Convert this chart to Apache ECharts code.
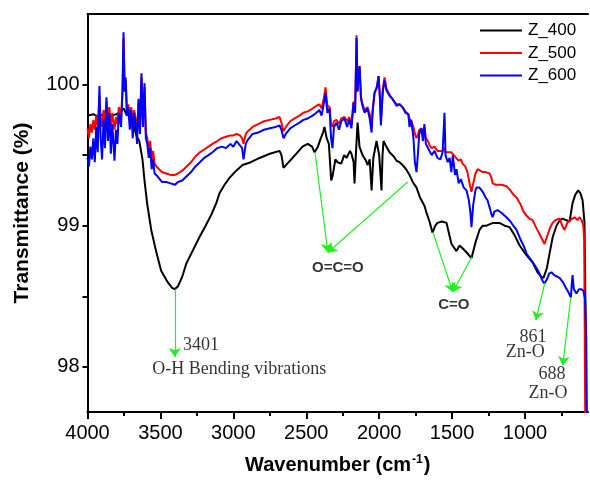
<!DOCTYPE html>
<html>
<head>
<meta charset="utf-8">
<script src="https://cdn.jsdelivr.net/npm/echarts@6/dist/echarts.min.js"></script>
<style>html,body{margin:0;padding:0;background:#fff}#c{width:590px;height:480px}</style>
</head>
<body>
<div id="c"></div>
<script>
const seriesNames = ['Z_400', 'Z_500', 'Z_600'];
const xMajorTicks = [4000, 3500, 3000, 2500, 2000, 1500, 1000];
const xMinorTicks = [3750, 3250, 2750, 2250, 1750, 1250, 750];
const yTicks = [98, 98.5, 99, 99.5, 100];
const yLabels = [98, 99, 100];

const z400 = [
[4000,99.78],[3960,99.79],[3920,99.77],[3880,99.80],[3840,99.78],[3800,99.79],[3770,99.81],[3750,99.83],
[3730,99.78],[3712,99.80],[3690,99.73],[3665,99.64],[3645,99.60],[3623,99.47],[3609,99.32],[3590,99.15],
[3563,98.97],[3530,98.82],[3495,98.68],[3450,98.60],[3420,98.56],[3403,98.55],[3380,98.57],[3350,98.64],
[3323,98.73],[3280,98.82],[3232,98.92],[3190,99.00],[3150,99.08],[3117,99.16],[3095,99.23],[3060,99.29],
[3026,99.34],[2980,99.39],[2937,99.43],[2880,99.45],[2820,99.48],[2750,99.51],[2683,99.53],[2670,99.50],
[2656,99.41],[2630,99.44],[2594,99.48],[2560,99.52],[2526,99.56],[2490,99.58],[2460,99.56],[2443,99.52],
[2420,99.56],[2400,99.62],[2385,99.66],[2375,99.70],[2360,99.62],[2345,99.58],[2329,99.32],[2320,99.35],
[2300,99.47],[2286,99.45],[2260,99.44],[2240,99.50],[2224,99.48],[2200,99.53],[2190,99.51],[2175,99.45],
[2169,99.30],[2160,99.50],[2148,99.73],[2135,99.56],[2114,99.50],[2090,99.46],[2080,99.43],[2065,99.47],
[2052,99.25],[2040,99.48],[2018,99.60],[2000,99.50],[1984,99.25],[1977,99.50],[1970,99.60],[1950,99.56],
[1929,99.52],[1900,99.49],[1881,99.46],[1860,99.45],[1840,99.43],[1815,99.40],[1792,99.36],[1770,99.31],
[1744,99.27],[1720,99.20],[1689,99.14],[1675,99.09],[1655,99.03],[1634,98.95],[1615,99.00],[1600,99.02],
[1570,99.03],[1538,99.02],[1520,98.94],[1504,98.87],[1470,98.82],[1449,98.86],[1428,98.84],[1400,98.81],
[1367,98.77],[1340,98.88],[1312,98.97],[1290,99.00],[1264,99.00],[1220,99.02],[1175,99.02],[1140,99.00],
[1106,98.99],[1070,98.93],[1037,98.86],[1010,98.82],[989,98.79],[948,98.74],[914,98.67],[890,98.64],
[873,98.63],[850,98.70],[832,98.80],[810,98.92],[784,99.00],[760,99.04],[742,99.05],[720,99.04],
[694,99.03],[674,99.16],[655,99.22],[635,99.25],[620,99.23],[605,99.18],[592,99.02],[585,98.40],[578,97.40]
];

const z500 = [
[4000,99.69],[3990,99.62],[3980,99.72],[3970,99.66],[3960,99.75],[3950,99.68],[3940,99.78],[3930,99.70],
[3918,99.92],[3910,99.76],[3900,99.70],[3890,99.82],[3880,99.74],[3870,99.88],[3860,99.76],[3850,99.84],
[3840,99.70],[3830,99.80],[3815,99.68],[3805,99.77],[3795,99.72],[3785,99.84],[3770,99.78],[3760,99.95],
[3753,100.33],[3745,99.96],[3738,100.03],[3730,99.82],[3720,99.86],[3710,99.74],[3700,99.84],[3690,99.70],
[3680,99.82],[3670,99.76],[3660,99.66],[3650,99.88],[3640,99.70],[3630,100.05],[3620,99.74],[3609,99.98],
[3600,99.66],[3590,99.62],[3580,99.54],[3570,99.60],[3560,99.46],[3550,99.53],[3540,99.44],[3520,99.41],
[3490,99.38],[3460,99.37],[3430,99.36],[3400,99.36],[3380,99.37],[3350,99.39],[3320,99.42],[3290,99.45],
[3260,99.49],[3230,99.52],[3200,99.54],[3170,99.56],[3143,99.58],[3110,99.60],[3080,99.62],[3050,99.63],
[3020,99.64],[3000,99.64],[2978,99.65],[2955,99.64],[2940,99.62],[2930,99.58],[2915,99.65],[2900,99.67],
[2868,99.70],[2830,99.72],[2790,99.74],[2750,99.75],[2710,99.76],[2683,99.77],[2670,99.73],[2656,99.67],
[2640,99.70],[2610,99.74],[2580,99.76],[2546,99.78],[2520,99.80],[2490,99.81],[2457,99.83],[2430,99.85],
[2410,99.86],[2395,99.83],[2380,99.90],[2368,99.98],[2355,99.85],[2340,99.84],[2330,99.72],[2320,99.70],
[2310,99.74],[2293,99.75],[2275,99.72],[2260,99.76],[2238,99.77],[2220,99.74],[2205,99.77],[2190,99.72],
[2176,99.88],[2165,99.82],[2155,100.35],[2148,99.96],[2141,100.06],[2134,100.13],[2125,99.92],[2114,99.86],
[2100,99.82],[2080,99.84],[2065,99.79],[2052,99.70],[2045,99.82],[2032,99.94],[2015,99.99],[2004,100.06],
[1995,99.92],[1988,99.75],[1975,99.97],[1963,100.05],[1950,99.97],[1929,99.93],[1910,99.90],[1881,99.86],
[1860,99.86],[1840,99.84],[1820,99.81],[1800,99.79],[1792,99.76],[1780,99.74],[1765,99.70],[1755,99.65],
[1744,99.62],[1735,99.64],[1725,99.68],[1710,99.69],[1700,99.64],[1690,99.70],[1680,99.62],[1665,99.60],
[1655,99.57],[1640,99.55],[1620,99.56],[1600,99.53],[1580,99.53],[1565,99.53],[1552,99.55],[1545,99.52],
[1530,99.52],[1517,99.51],[1505,99.52],[1480,99.49],[1470,99.50],[1455,99.46],[1440,99.47],[1428,99.44],
[1410,99.42],[1395,99.38],[1380,99.30],[1367,99.24],[1355,99.30],[1340,99.37],[1325,99.40],[1312,99.39],
[1290,99.38],[1270,99.38],[1243,99.37],[1230,99.34],[1222,99.30],[1200,99.29],[1160,99.29],[1127,99.28],
[1100,99.25],[1080,99.22],[1058,99.20],[1030,99.15],[1010,99.10],[989,99.07],[970,99.05],[948,99.04],
[930,99.00],[910,98.96],[890,98.92],[866,98.87],[850,98.92],[830,98.98],[811,99.02],[790,99.04],
[763,99.05],[745,99.00],[729,98.97],[710,99.02],[690,99.04],[675,99.05],[660,99.06],[640,99.04],
[625,99.06],[612,99.04],[600,99.00],[594,98.90],[590,98.20],[586,97.40]
];

const z600 = [
[4000,99.48],[3990,99.42],[3980,99.56],[3970,99.47],[3960,99.62],[3950,99.45],[3940,99.70],[3930,99.52],
[3918,99.99],[3910,99.62],[3900,99.47],[3890,99.75],[3880,99.55],[3870,99.91],[3860,99.60],[3850,99.80],
[3840,99.51],[3830,99.72],[3815,99.46],[3805,99.68],[3795,99.58],[3785,99.80],[3770,99.70],[3760,99.95],
[3753,100.37],[3745,99.95],[3738,100.05],[3730,99.78],[3720,99.84],[3710,99.68],[3700,99.82],[3690,99.62],
[3680,99.80],[3670,99.72],[3660,99.58],[3650,99.90],[3640,99.65],[3630,100.08],[3620,99.70],[3609,100.01],
[3600,99.62],[3590,99.58],[3580,99.48],[3570,99.55],[3560,99.40],[3550,99.47],[3540,99.37],[3520,99.35],
[3490,99.31],[3460,99.31],[3430,99.30],[3400,99.29],[3380,99.31],[3350,99.32],[3320,99.35],[3290,99.38],
[3260,99.42],[3230,99.45],[3200,99.48],[3170,99.50],[3143,99.52],[3110,99.55],[3080,99.56],[3050,99.55],
[3020,99.58],[3000,99.56],[2978,99.60],[2955,99.57],[2940,99.55],[2930,99.47],[2915,99.58],[2900,99.61],
[2868,99.65],[2830,99.66],[2790,99.68],[2750,99.69],[2710,99.70],[2683,99.71],[2670,99.68],[2656,99.62],
[2640,99.65],[2610,99.69],[2580,99.71],[2546,99.73],[2520,99.75],[2490,99.76],[2457,99.78],[2430,99.80],
[2410,99.82],[2395,99.78],[2380,99.86],[2368,99.94],[2355,99.80],[2340,99.83],[2330,99.62],[2320,99.55],
[2310,99.70],[2293,99.73],[2275,99.68],[2260,99.74],[2238,99.76],[2220,99.70],[2205,99.75],[2190,99.69],
[2176,99.87],[2165,99.80],[2155,100.33],[2148,99.95],[2141,100.06],[2134,100.13],[2125,99.90],[2114,99.85],
[2100,99.80],[2080,99.83],[2065,99.76],[2052,99.66],[2045,99.80],[2032,99.94],[2015,99.98],[2004,100.06],
[1995,99.90],[1988,99.71],[1975,99.95],[1963,100.03],[1950,99.96],[1929,99.92],[1910,99.90],[1881,99.85],
[1860,99.86],[1840,99.84],[1820,99.80],[1800,99.79],[1792,99.70],[1780,99.75],[1765,99.62],[1755,99.45],
[1744,99.38],[1735,99.50],[1725,99.65],[1710,99.69],[1700,99.60],[1690,99.72],[1680,99.58],[1665,99.55],
[1655,99.55],[1640,99.50],[1620,99.53],[1600,99.48],[1580,99.47],[1565,99.52],[1552,99.80],[1545,99.50],
[1530,99.45],[1517,99.48],[1505,99.38],[1495,99.50],[1480,99.36],[1470,99.40],[1455,99.30],[1440,99.33],
[1420,99.27],[1401,99.25],[1385,99.18],[1375,99.10],[1367,98.99],[1355,99.15],[1340,99.25],[1333,99.27],
[1312,99.27],[1290,99.24],[1270,99.20],[1257,99.18],[1240,99.12],[1230,99.08],[1222,99.06],[1210,99.10],
[1188,99.11],[1160,99.09],[1127,99.06],[1100,99.03],[1080,99.00],[1058,98.97],[1030,98.90],[1010,98.86],
[989,98.80],[960,98.76],[940,98.73],[921,98.70],[900,98.66],[880,98.61],[866,98.59],[850,98.62],
[835,98.66],[818,98.67],[800,98.65],[780,98.64],[763,98.63],[740,98.60],[720,98.56],[708,98.54],
[695,98.55],[685,98.49],[680,98.58],[674,98.65],[665,98.55],[647,98.52],[630,98.55],[615,98.55],
[600,98.54],[588,98.48],[580,98.20],[574,97.40]
];

// annotation arrows: [fromWn, fromT, toWn, toT]
const arrows = [
[3401, 98.55, 3401, 98.07],
[2440, 99.52, 2352, 98.81],
[1804, 99.31, 2352, 98.81],
[1632, 98.955, 1495, 98.53],
[1364, 98.78, 1495, 98.53],
[864, 98.594, 926, 98.33],
[686, 98.495, 741, 98.01]
];
// annotation texts: [wn, T, text, kind]
const notes = [
[3346, 98.155, '3401', 'serifL'],
[2959, 97.985, 'O-H Bending vibrations', 'serif'],
[2283, 98.70, 'O=C=O', 'bold'],
[1488, 98.44, 'C=O', 'bold'],
[946, 98.21, '861', 'serif'],
[999, 98.10, 'Zn-O', 'serif'],
[815, 97.95, '688', 'serif'],
[843, 97.81, 'Zn-O', 'serif']
];

const colors = ['#000000', '#ff0000', '#0000ff'];
const green = '#22ee22';
const sans = '"Liberation Sans", Arial, sans-serif';
const serif = '"Liberation Serif", "Times New Roman", serif';

const chart = echarts.init(document.getElementById('c'), null, {renderer: 'canvas'});

const noteStyles = {
  serif: {fontFamily: serif, fontSize: 18, color: '#000', align: 'center'},
  serifL: {fontFamily: serif, fontSize: 18, color: '#000', align: 'left'},
  bold: {fontFamily: sans, fontSize: 15, fontWeight: 'bold', color: '#000', align: 'center'}
};

const lineSeries = [z400, z500, z600].map((d, i) => ({
  name: seriesNames[i], type: 'line', data: d, symbol: 'none', showSymbol: false,
  lineStyle: {color: colors[i], width: 2}, itemStyle: {color: colors[i]},
  xAxisIndex: 0, yAxisIndex: 0, clip: true, z: 2 + i
}));

const option = {
  animation: false,
  backgroundColor: '#fff',
  grid: {left: 87.5, right: 2, top: 14, bottom: 68, containLabel: false},
  legend: {
    data: seriesNames.map(n => ({name: n, icon: 'rect'})), orient: 'vertical', left: 480, top: 22,
    itemWidth: 42, itemHeight: 2, itemGap: 5.5, padding: 0,
    textStyle: {fontFamily: sans, fontSize: 17, color: '#000', padding: [0, 0, 0, 1]}
  },
  xAxis: [
    {
      type: 'value', inverse: true, min: 568, max: 4000, position: 'bottom',
      axisLine: {show: true, onZero: false, lineStyle: {color: '#000', width: 2}},
      axisTick: {show: true, inside: false, length: 7, customValues: xMajorTicks, lineStyle: {color: '#000', width: 2}},
      axisLabel: {show: true, customValues: xMajorTicks, margin: 11, fontFamily: sans, fontSize: 20, color: '#000',
        formatter: v => String(v)},
      splitLine: {show: false},
      name: '{a|Wavenumber (cm}{s|-1}{a|)}', nameLocation: 'middle', nameGap: 42,
      nameTextStyle: {rich: {
        a: {fontFamily: sans, fontSize: 20, fontWeight: 'bold', color: '#000'},
        s: {fontFamily: sans, fontSize: 12, fontWeight: 'bold', color: '#000', verticalAlign: 'top', padding: [0, 1, 10, 1]}
      }}
    },
    {
      type: 'value', inverse: true, min: 568, max: 4000, position: 'bottom',
      axisLine: {show: false, onZero: false},
      axisTick: {show: true, inside: false, length: 4, customValues: xMinorTicks, lineStyle: {color: '#000', width: 2}},
      axisLabel: {show: false}, splitLine: {show: false}
    },
    {
      type: 'value', inverse: true, min: 568, max: 4000, position: 'top',
      axisLine: {show: true, onZero: false, lineStyle: {color: '#000', width: 2}},
      axisTick: {show: false}, axisLabel: {show: false}, splitLine: {show: false}
    }
  ],
  yAxis: [{
    type: 'value', min: 97.68, max: 100.5,
    axisLine: {show: true, onZero: false, lineStyle: {color: '#000', width: 2}},
    axisTick: {show: true, inside: false, length: 5, customValues: yTicks, lineStyle: {color: '#000', width: 2}},
    axisLabel: {show: true, customValues: yLabels, margin: 8, fontFamily: sans, fontSize: 20, color: '#000'},
    splitLine: {show: false},
    name: 'Transmittance (%)', nameLocation: 'middle', nameGap: 55, nameRotate: 90,
    nameTextStyle: {fontFamily: sans, fontSize: 21, fontWeight: 'bold', color: '#000'}
  }],
  series: lineSeries.concat([
    {
      name: 'arrows', type: 'line', data: [], xAxisIndex: 0, yAxisIndex: 0, z: 6,
      markLine: {
        silent: true, animation: false, symbol: ['none', 'arrow'], symbolSize: 9,
        label: {show: false},
        lineStyle: {color: green, width: 1.2, type: 'solid'},
        emphasis: {disabled: true},
        data: arrows.map(a => [{coord: [a[0], a[1]]}, {coord: [a[2], a[3]]}])
      }
    },
    {
      name: 'notes', type: 'scatter', xAxisIndex: 0, yAxisIndex: 0, symbolSize: 0, z: 7, silent: true,
      data: notes.map(n => ({
        value: [n[0], n[1]], name: n[2],
        label: Object.assign({show: true, position: 'inside', formatter: n[2], verticalAlign: 'middle'}, noteStyles[n[3]])
      }))
    }
  ])
};
chart.setOption(option);
</script>
</body>
</html>
